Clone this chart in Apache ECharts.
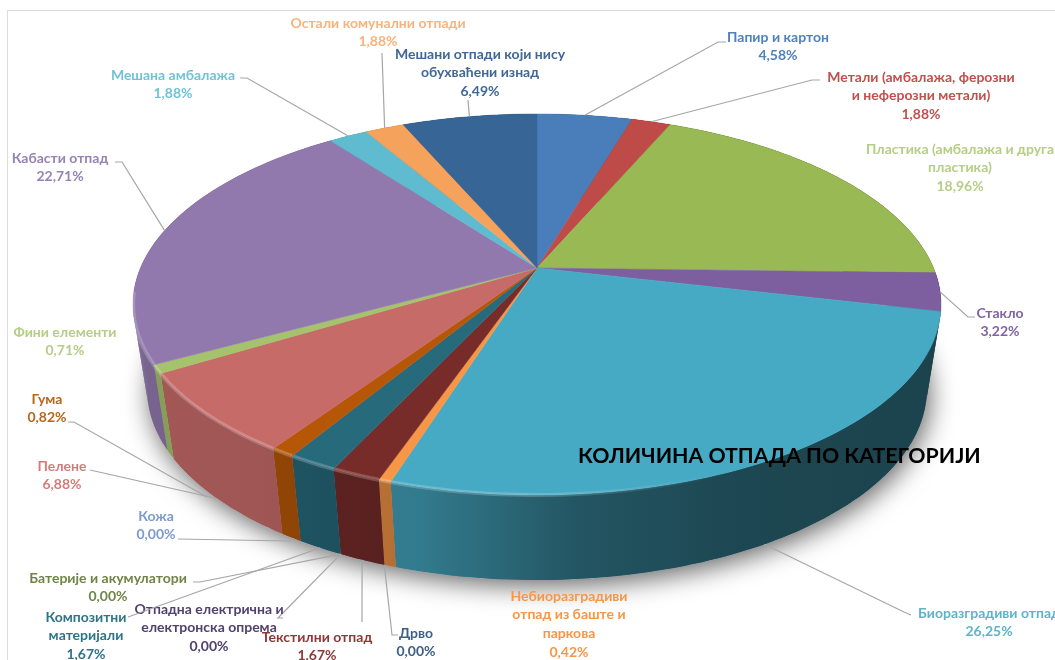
<!DOCTYPE html>
<html>
<head>
<meta charset="utf-8">
<title>Количина отпада по категорији</title>
<script src="https://cdn.jsdelivr.net/npm/echarts@6/dist/echarts.min.js"></script>
<style>
  html, body { margin: 0; padding: 0; background: #fff; overflow: hidden; }
  #main { width: 1055px; height: 660px; }
</style>
</head>
<body>
<div id="main"></div>
<script>
// values in pie order, clockwise from 12 o'clock
const categories = [
  'Папир и картон', 'Метали (амбалажа, ферозни\nи неферозни метали)', 'Пластика (амбалажа и друга\nпластика)',
  'Стакло', 'Биоразградиви отпад', 'Небиоразградиви\nотпад из баште и\nпаркова', 'Дрво', 'Текстилни отпад',
  'Отпадна електрична и\nелектронска опрема', 'Батерије и акумулатори', 'Композитни\nматеријали', 'Кожа',
  'Гума', 'Пелене', 'Фини елементи', 'Кабасти отпад', 'Мешана амбалажа', 'Остали комунални отпади',
  'Мешани отпади који нису\nобухваћени изнад'
]
const values = [4.58, 1.88, 18.96, 3.22, 26.25, 0.42, 0, 1.67, 0, 0, 1.67, 0, 0.82, 6.88, 0.71, 22.71, 1.88, 1.88, 6.49]
const sliceColors = [
  '#4a7ebb', '#be4b48', '#98b954', '#7d5fa0', '#46aac4', '#f79646', '#3f6797', '#772c2a', '#50416e', '#6f8547',
  '#276a7c', '#7b9bd0', '#b65708', '#c76b69', '#a5c26d', '#9179ae', '#5fbbd0', '#f5a25d', '#376596'
]
const labelColors = [
  '#4f81bd', '#c0504d', '#b5cd85', '#8064a2', '#5fb3c9', '#f79646', '#3e5f87', '#8c3836', '#50416e', '#6f8547',
  '#2e7488', '#7b9bd0', '#b8651b', '#d47c7a', '#b5cd85', '#9682b4', '#70c3d6', '#f9b27a', '#3f6797'
]

// label placing: text centre x, first line centre y, leader bend points (nearest the text first)
// edge: which rim the leader lands on, anchor: only where the leader does not land on its slice
const labelLayout = [
  { x: 778, y: 37, bend: [[726, 42], [718, 42]], edge: 'top' },
  { x: 921, y: 77, bend: [[820, 80], [812, 80]], edge: 'top' },
  { x: 960, y: 149 },
  { x: 1000, y: 313, bend: [[975, 317], [968, 317]], edge: 'top' },
  { x: 989, y: 613, bend: [[911, 615], [904, 612]], edge: 'bottom' },
  { x: 569, y: 596 },
  { x: 416, y: 633, bend: [[398, 635], [392, 635]], edge: 'bottom' },
  { x: 317, y: 637, bend: [[362, 622]], edge: 'bottom' },
  { x: 209, y: 609, bend: [[283, 618], [278, 618]], edge: 'bottom' },
  { x: 108, y: 578, bend: [[193, 582], [200, 582]], edge: 'bottom' },
  { x: 86, y: 617, bend: [[128, 617]], edge: 'bottom' },
  { x: 156, y: 516, bend: [[178, 539]], edge: 'bottom', anchor: [290, 541] },
  { x: 47, y: 399, bend: [[68, 422], [74, 422]], edge: 'bottom', anchor: [207, 497] },
  { x: 62, y: 466, bend: [[90, 470]], edge: 'bottom' },
  { x: 65, y: 332 },
  { x: 60, y: 158, bend: [[115, 162], [122, 162]], edge: 'top' },
  { x: 173, y: 75, bend: [[240, 78], [247, 78]], edge: 'top' },
  { x: 378, y: 23, bend: [[382, 53]], edge: 'top' },
  { x: 480, y: 54, bend: [[468, 100]], edge: 'top' }
]

const textFont = 'Lato, "Noto Sans", sans-serif'
const centerX = 537, centerY = 268
const radiusX = 396.5, radiusY = 183.5, tilt = 0.1916
const wallDrop = 85, bottomShrink = 0.965

// wall brightness along x, so the rim goes dark towards the right like the 3d light
const wallShade = [[0, 0.84], [0.25, 0.8], [0.4, 0.72], [0.55, 0.5], [0.7, 0.42], [1, 0.38]]

let total = 0
const startPct = values.map(v => { const s = total; total += v; return s })

function project(pct, onBottom) {
  const a = pct / total * Math.PI * 2
  const u = Math.sin(a), v = -Math.cos(a), d = 1 - tilt * v
  const sx = onBottom ? bottomShrink : 1
  return [
    centerX + radiusX * sx * u / d,
    centerY + radiusY * v / d + (onBottom ? wallDrop : 0)
  ]
}

function arc(fromPct, toPct, onBottom) {
  const pts = [], n = Math.max(2, Math.ceil((toPct - fromPct) * 3))
  for (let i = 0; i <= n; i++) pts.push(project(fromPct + (toPct - fromPct) * i / n, onBottom))
  return pts
}

function scaleColor(hex, f) {
  const n = parseInt(hex.slice(1), 16)
  return 'rgb(' + [n >> 16, (n >> 8) & 255, n & 255].map(c => Math.round(c * f)).join(',') + ')'
}

function renderShadow() {
  return {
    type: 'polygon',
    shape: { points: arc(0, total, true) },
    style: { fill: '#fff', shadowBlur: 26, shadowColor: 'rgba(0,0,0,0.6)', shadowOffsetX: 3, shadowOffsetY: 6 }
  }
}

function renderWall(params, api) {
  const i = params.dataIndex, v = api.value(0)
  if (!v) return null
  const from = startPct[i], to = from + v
  const top = arc(from, to, false), bottom = arc(from, to, true)
  const fill = {
    type: 'linear', x: 0, y: 0, x2: 1055, y2: 0, global: true,
    colorStops: wallShade.map(s => ({ offset: s[0], color: scaleColor(sliceColors[i], s[1]) }))
  }
  // the quads fill the straight silhouette at the far left and right, the band on top hides their seams
  const children = []
  for (let k = 0; k < top.length - 1; k++) {
    children.push({
      type: 'polygon',
      shape: { points: [top[k], top[k + 1], bottom[k + 1], bottom[k]] },
      style: { fill: fill }
    })
  }
  children.push({
    type: 'polygon',
    shape: { points: top.concat(bottom.slice().reverse()) },
    style: { fill: fill }
  })
  return { type: 'group', children: children }
}

function renderTop(params, api) {
  const i = params.dataIndex, v = api.value(0)
  if (!v) return null
  const from = startPct[i], to = from + v
  // soft highlight on the bevel of the front rim
  const rim = arc(from, to, false).filter(p => p[1] > centerY + 20)
  const children = [{
    type: 'polygon',
    shape: { points: [[centerX, centerY]].concat(arc(from, to, false)) },
    style: { fill: sliceColors[i], stroke: sliceColors[i], lineWidth: 0.5 }
  }]
  if (rim.length > 1) {
    children.push({
      type: 'polyline',
      shape: { points: rim },
      style: {
        fill: null, lineWidth: 4,
        stroke: {
          type: 'linear', x: 0, y: 0, x2: 1055, y2: 0, global: true,
          colorStops: [
            { offset: 0, color: 'rgba(255,255,255,0.2)' },
            { offset: 0.5, color: 'rgba(255,255,255,0.2)' },
            { offset: 0.68, color: 'rgba(255,255,255,0)' },
            { offset: 1, color: 'rgba(255,255,255,0)' }
          ]
        }
      }
    })
  }
  return { type: 'group', children: children }
}

function renderLabel(params, api) {
  const i = params.dataIndex, v = api.value(0), l = labelLayout[i]
  const children = []
  if (l.bend) {
    const mid = startPct[i] + v / 2
    const anchor = l.anchor || project(mid, l.edge === 'bottom')
    children.push({
      type: 'polyline',
      shape: { points: l.bend.concat([anchor]) },
      style: { fill: null, stroke: '#a6a6a6', lineWidth: 1.2 }
    })
  }
  children.push({
    type: 'text',
    style: {
      text: categories[i] + '\n' + v.toFixed(2).replace('.', ',') + '%',
      x: l.x, y: l.y - 9,
      align: 'center', verticalAlign: 'top',
      lineHeight: 18.6,
      fill: labelColors[i],
      font: 'bold 14px ' + textFont
    }
  })
  return { type: 'group', children: children }
}

const chart = echarts.init(document.getElementById('main'))
chart.setOption({
  animation: false,
  backgroundColor: '#fff',
  title: {
    text: 'КОЛИЧИНА ОТПАДА ПО КАТЕГОРИЈИ',
    left: 578,
    top: 446,
    padding: 0,
    textStyle: { color: '#000', fontSize: 21.3, fontWeight: 'bold', fontFamily: textFont }
  },
  graphic: [
    { type: 'line', silent: true, shape: { x1: 7.5, y1: 10, x2: 7.5, y2: 660 }, style: { stroke: '#dcdcdc', lineWidth: 1 } },
    { type: 'line', silent: true, shape: { x1: 7.5, y1: 10.5, x2: 1055, y2: 10.5 }, style: { stroke: '#dcdcdc', lineWidth: 1 } }
  ],
  series: [
    { type: 'custom', coordinateSystem: 'none', z: 1, silent: true, data: [total], renderItem: renderShadow },
    { type: 'custom', coordinateSystem: 'none', z: 2, silent: true, data: values, renderItem: renderWall },
    { type: 'custom', coordinateSystem: 'none', z: 3, silent: true, data: values, renderItem: renderTop },
    { type: 'custom', coordinateSystem: 'none', z: 4, silent: true, data: values, renderItem: renderLabel }
  ]
})
</script>
</body>
</html>
